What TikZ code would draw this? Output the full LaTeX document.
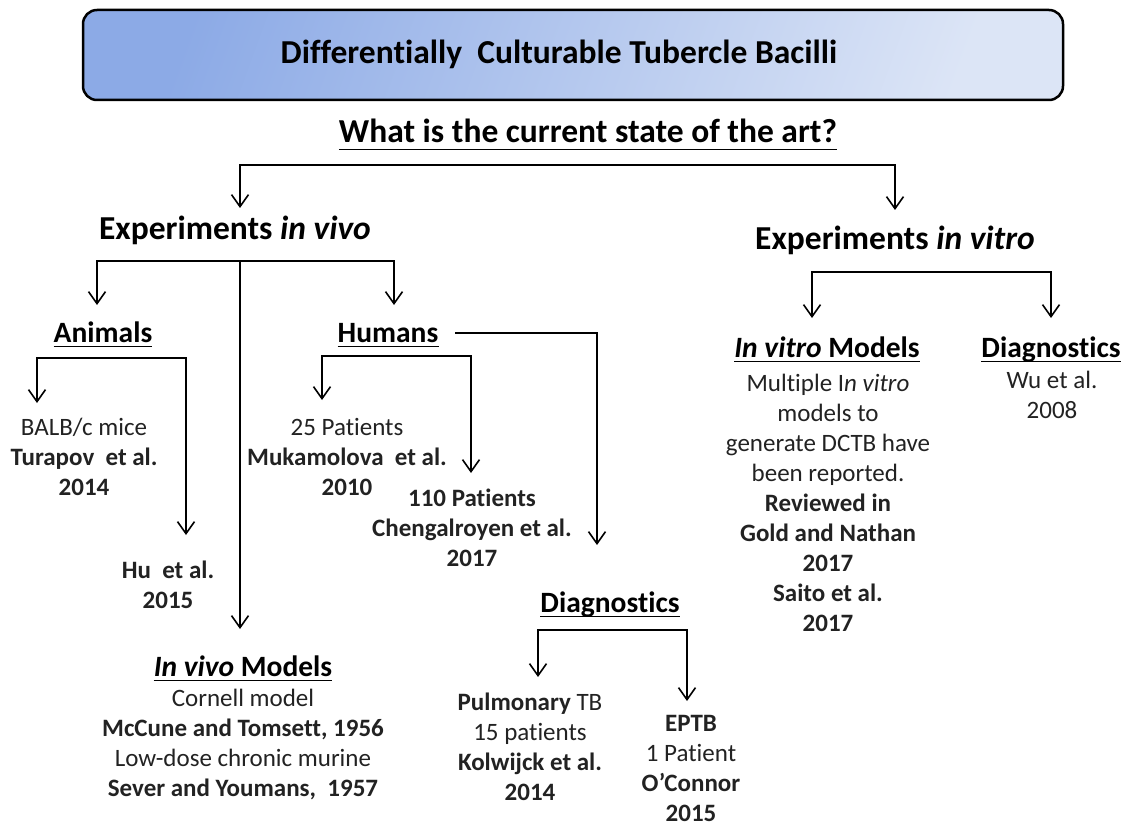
\documentclass[tikz,border=0pt]{standalone}
\usepackage{fontspec}
\setmainfont{Carlito}[Ligatures=NoCommon]
\usetikzlibrary{arrows.meta}
\definecolor{boxA}{HTML}{8CAAE6}
\definecolor{boxB}{HTML}{DCE5F6}
\definecolor{txtgray}{HTML}{222222}
\begin{document}
\begin{tikzpicture}[x=1pt,y=-1pt,
  arr/.style={line width=1.8pt,-{Straight Barb[length=12pt,width=17pt,line width=1.6pt]}},
  ulline/.style={line width=1.8pt},
  titlebox/.style={draw, line width=2.5pt, rounded corners=14pt, top color=boxA, bottom color=boxB, shading angle=70, minimum width=980pt, minimum height=90pt, inner sep=0pt},
  body/.style={font=\fontsize{25}{30}\selectfont, text=txtgray, align=center, inner sep=0pt, anchor=base},
  head/.style={font=\fontsize{29.5}{32}\selectfont\bfseries, inner sep=0pt, anchor=base},
  exper/.style={font=\fontsize{33.5}{36}\selectfont\bfseries, inner sep=0pt, anchor=base},
  qst/.style={font=\fontsize{33.5}{36}\selectfont\bfseries, inner sep=0pt, anchor=base},
  ttl/.style={font=\fontsize{33.5}{36}\selectfont\bfseries, inner sep=0pt, anchor=base},
]
\useasboundingbox (0,0) rectangle (1126,826);
% title
\node[titlebox] (tbox) at (573,55) {};
\node[ttl] (title) at (559,64) {Differentially\ \ Culturable Tubercle Bacilli};
\node[qst] (q) at (588,143) {What is the current state of the art?};
% level 1
\node[exper] (exvivo) at (235,240) {Experiments \textit{in vivo}};
\node[exper] (exvitro) at (895,250) {Experiments \textit{in vitro}};
% level 2
\node[head] (animals) at (103,342) {Animals};
\node[head] (humans) at (388,342) {Humans};
\node[head] (ivm) at (243,676) {\textit{In vivo} Models};
\node[head] (itm) at (827,357) {\textit{In vitro} Models};
\node[head] (diagR) at (1051,357) {Diagnostics};
\node[head] (diagH) at (610,612) {Diagnostics};
% underlines
\draw[ulline] ([yshift=-6.5pt]q.base west) -- ([yshift=-6.5pt]q.base east);
\foreach \n in {animals,humans,ivm,itm,diagR,diagH}
  \draw[ulline] ([yshift=-4.5pt]\n.base west) -- ([yshift=-4.5pt]\n.base east);
% bodies (base anchor = baseline of last line)
\node[body] (balb) at (84,495) {BALB/c mice\\\textbf{Turapov\ \ et al.}\\\textbf{2014}};
\node[body] (hu) at (168,608) {\textbf{Hu\ \ et al.}\\\textbf{2015}};
\node[body] (p25) at (347,495) {25 Patients\\\textbf{Mukamolova\ \ et al.}\\\textbf{2010}};
\node[body] (p110) at (472,566) {\textbf{110 Patients}\\\textbf{Chengalroyen et al.}\\\textbf{2017}};
\node[body] (pulm) at (530,800) {\textbf{Pulmonary} TB\\15 patients\\\textbf{Kolwijck et al.}\\\textbf{2014}};
\node[body] (eptb) at (691,821) {\textbf{EPTB}\\1 Patient\\\textbf{O’Connor}\\\textbf{2015}};
\node[body] (ivmtxt) at (243,796) {Cornell model\\\textbf{McCune and Tomsett, 1956}\\Low-dose chronic murine\\\textbf{Sever and Youmans,\ \ 1957}};
\node[body] (itmtxt) at (828,631) {Multiple I\textit{n vitro}\\models to\\generate DCTB have\\been reported.\\\textbf{Reviewed in}\\\textbf{Gold and Nathan}\\\textbf{2017}\\\textbf{Saito et al.}\\\textbf{2017}};
\node[body] (wu) at (1052,418) {Wu et al.\\2008};
% connector junctions and tips
\coordinate (jq) at (588,165);
\coordinate (t1) at (240,208);
\coordinate (t2) at (895,210);
\coordinate (jv) at (240,261);
\coordinate (t3) at (97,305);
\coordinate (t4) at (394,305);
\coordinate (t5) at (240,629);
\coordinate (ja) at (110,358);
\coordinate (t6) at (37,403);
\coordinate (t7) at (186,535);
\coordinate (jh) at (396,356);
\coordinate (t8) at (322,400);
\coordinate (t9) at (471,473);
\coordinate (hs) at (455,333);
\coordinate (t10) at (597,545);
\coordinate (jd) at (612,630);
\coordinate (t11) at (538,677);
\coordinate (t12) at (687,701);
\coordinate (jt) at (930,272);
\coordinate (t13) at (812,318);
\coordinate (t14) at (1051,318);
% connectors
\draw[arr] (jq) -| (t1);
\draw[arr] (jq) -| (t2);
\draw[arr] (jv) -| (t3);
\draw[arr] (jv) -| (t4);
\draw[arr] (jv) -- (t5);
\draw[arr] (ja) -| (t6);
\draw[arr] (ja) -| (t7);
\draw[arr] (jh) -| (t8);
\draw[arr] (jh) -| (t9);
\draw[arr] (hs) -| (t10);
\draw[arr] (jd) -| (t11);
\draw[arr] (jd) -| (t12);
\draw[arr] (jt) -| (t13);
\draw[arr] (jt) -| (t14);
\end{tikzpicture}
\end{document}
